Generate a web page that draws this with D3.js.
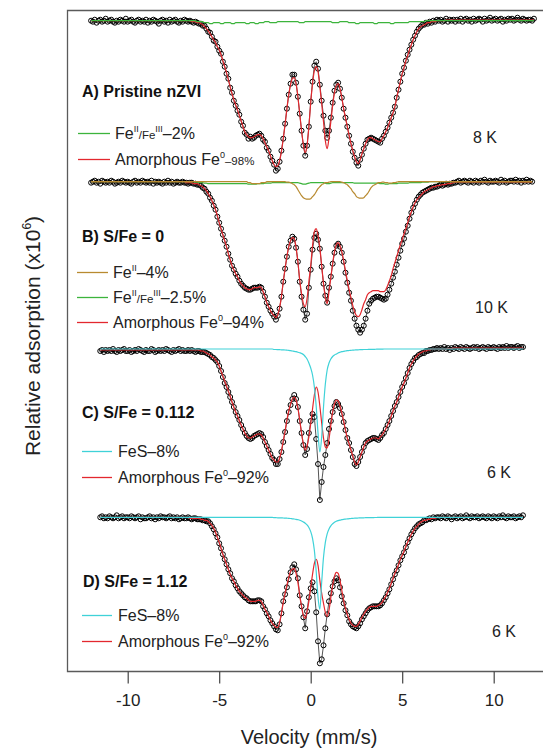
<!DOCTYPE html>
<html>
<head>
<meta charset="utf-8">
<script src="https://cdn.jsdelivr.net/npm/d3@7"></script>
<style>
  html, body { margin: 0; padding: 0; background: #fff; }
  svg { display: block; font-family: "Liberation Sans", Arial, sans-serif; }
</style>
</head>
<body>
<svg id="chart" width="543" height="748"></svg>
<script>
// Mössbauer spectra of nZVI samples: measured absorption (circles) and fitted components.
// Velocity channels (mm/s), 0.1 mm/s apart.
const velocity = d3.range(244).map(i => Math.round(-120 + i) / 10);      // -12.0 … 12.3
const fitVelocity = d3.range(160).map(i => Math.round(-80 + i) / 10);    // -8.0 … 7.9
const xTicks = [-10, -5, 0, 5, 10];

// ---- A) Pristine nZVI, 8 K ----
const pristineCounts = [
  0,1,-1,2,0,-1,1,0,-2,1,
  0,-1,1,2,0,1,-1,0,1,-2,
  1,0,-1,1,2,0,-1,1,0,1,
  -1,2,0,1,-1,0,1,3,0,-1,
  1,0,2,-1,1,0,-1,1,2,0,
  1,-1,0,1,0,1,2,1,2,3,
  3,5,5,8,11,12,16,20,21,26,
  30,33,41,46,53,58,67,72,80,85,
  90,94,101,105,112,114,118,116,118,117,
  115,114,113,115,119,121,127,130,136,140,
  144,150,148,141,130,118,103,88,74,63,
  54,54,62,76,93,110,125,135,125,106,
  81,61,45,41,48,64,80,95,110,117,
  110,97,82,70,64,62,68,77,88,97,
  106,115,123,131,137,142,145,139,134,128,
  123,119,118,117,118,119,120,121,122,118,
  115,111,107,102,97,92,86,77,69,61,
  53,47,40,34,29,24,19,15,11,8,
  6,4,4,2,3,1,2,0,1,-1,
  0,-1,1,0,-2,1,-1,0,-1,1,
  -1,0,-2,1,-1,-2,0,-1,1,-2,
  0,-1,-2,-1,1,-2,0,-1,-3,0,
  -1,-2,0,-1,-2,1,-1,0,-2,-1,
  -2,0,-1,-3,-1,0,-2,-1,0,-1,
  -1,0,-2,null
];
const pristineFit = [
  0,0,0,0,0,0,0,0,0,0,
  0,0,0,0,0,1,1,1,2,2,
  3,4,6,8,10,13,16,19,22,26,
  29,34,40,46,52,59,66,73,79,84,
  89,95,100,106,111,114,116,117,117,116,
  115,114,114,115,118,122,126,130,135,140,
  144,146,145,140,131,118,104,88,74,64,
  58,57,63,76,93,110,124,132,125,106,
  82,63,50,46,51,66,83,101,120,128,
  117,101,85,72,65,63,68,77,88,97,
  106,115,123,130,136,141,143,139,133,128,
  123,119,117,117,118,119,120,121,121,118,
  115,111,107,102,97,92,86,77,69,61,
  53,47,40,35,29,24,19,15,11,8,
  6,5,4,3,2,2,1,1,1,0,
  0,0,0,0,-0.5,-0.5,-0.5,-0.5,-0.5,-0.5
];
const pristineFeII_III = [
  0,0,0,0,0,0,0,0,0,0,
  0,0,0,0,0,0,0,0,1,1,
  1,1,2,2,2,3,3,2,2,2,
  2,3,3,2,2,2,2,3,3,2,
  2,2,2,2,2,3,3,2,2,2,
  3,3,2,2,2,1,1,1,2,2,
  2,2,1,1,1,1,1,1,1,1,
  1,1,1,1,2,2,2,1,1,1,
  1,1,1,1,1,1,1,1,1,1,
  1,1,2,2,2,2,1,1,1,1,
  1,2,2,2,2,3,3,2,2,2,
  2,2,2,2,2,3,3,2,2,2,
  2,2,2,2,3,3,2,2,2,2,
  2,2,2,2,1,1,1,1,1,1,
  1,1,1,0,0,0,0,0,0,0,
  0,0,0,0,0,0,0,0,0,0
];

// ---- B) S/Fe = 0, 10 K ----
const sfe0Counts = [
  1,0,-1,1,0,2,-1,0,1,0,
  1,-1,0,2,1,0,1,-1,0,1,
  0,1,2,0,-1,1,0,1,-1,0,
  1,0,1,-1,2,0,1,0,1,2,
  0,1,-1,1,0,2,1,0,1,1,
  0,1,1,2,1,1,2,2,3,3,
  4,6,7,10,12,16,19,24,28,35,
  41,47,53,59,65,72,78,84,88,92,
  95,99,102,104,106,107,108,108,107,106,
  106,106,105,106,110,115,121,125,129,132,
  135,138,134,127,115,100,87,75,65,59,
  55,57,66,80,100,115,128,138,132,106,
  88,68,56,52,58,67,85,102,114,121,
  106,95,82,71,64,62,65,71,80,91,
  101,111,119,129,137,144,148,151,148,144,
  137,129,122,119,117,116,115,115,116,117,
  118,117,113,108,102,96,90,83,76,69,
  62,57,50,44,37,31,26,22,18,15,
  13,11,10,9,8,7,6,6,5,5,
  4,3,4,3,2,3,2,2,1,1,
  0,-1,1,0,-1,0,1,-1,0,1,
  -1,0,1,-1,0,-2,0,1,-1,0,
  0,-1,0,1,-2,0,-1,1,0,-1,
  -1,0,-2,0,-1,1,-1,0,-2,0,
  -1,0,null,null
];
const sfe0Fit = [
  0,0,0,0,0,0,0,0,0,0,
  0,0,1,1,1,1,2,2,2,3,
  4,5,7,9,12,15,19,23,28,34,
  41,47,53,59,65,72,78,84,88,92,
  95,99,102,104,106,107,108,108,107,106,
  106,106,105,106,110,115,121,125,129,132,
  134,136,133,126,115,100,87,75,65,59,
  56,57,66,80,98,112,122,125,117,100,
  84,64,50,47,54,66,84,102,116,122,
  110,96,82,70,63,61,64,70,79,89,
  99,108,116,124,130,134,135,133,128,122,
  118,113,111,110,109,109,109,109,110,110,
  110,108,104,99,94,87,81,75,69,63,
  58,52,47,41,35,30,25,21,18,16,
  14,12,10,9,8,7,6,5,5,4,
  4,3.5,3,3,2.5,2,2,1.5,1,0.5
];
const sfe0FeII = [
  0,0,0,0,0,0,0,0,0,0,
  0,0,0,0,0,0,0,0,0,0,
  0,0,0,0,0,0,0,0,0,0,
  0,0,0,0,0,0,0,0,0,0,
  0,0,0,0,0,0,1,1,2,2,
  2,2,2,1,1,1,0,0,0,0,
  0,0,0,0,0,0,0,0.5,0.5,1,
  2,3,5,8,11,14,16,17,17.5,17.5,
  17,15,13,10,7,5,3,2,1,1,
  0.5,0,0,0,0,0,0,0.5,1,2,
  3,5,7,10,12,15,16,16.5,16.5,16,
  14,12,9,6,4,3,2,1,1,0.5,
  0.5,1,1,1.5,1.5,1,1,0.5,0,0,
  0,0,0,0,0,0,0,0,0,0,
  0,0,0,0,0,0,0,0,0,0,
  0,0,0,0,0,0,0,0,0,0
];
const sfe0FeII_III = [
  0,0,0,0,0,0,0,0,0,0,
  0,0,0,0,0,0,0,0.5,0.5,1,
  1,1,1.5,1.5,2,2,2,2,2,2,
  2,2,2,2,2,2,2,2,2,2,
  2,2,2,2,2,2,2.5,2.5,2.5,2.5,
  2.5,2,2,2,2,1.5,1.5,1.5,1.5,1,
  1,1,1,1,1,1,1,1,1,1,
  1,1,1,1,1.5,2,2.5,2.5,2,1.5,
  1,1,1,1,1,1,1,1,1.5,2,
  2,1.5,1,1,1,1,1,1,1,1,
  1,1,1,1,1.5,1.5,1.5,1.5,1.5,1.5,
  1.5,1.5,1.5,1.5,1.5,1.5,1.5,1.5,2,2,
  2,2.5,2.5,2,2,2,2,2,1.5,1.5,
  1.5,1.5,1.5,1.5,1,1,1,1,1,1,
  1,0.5,0.5,0.5,0.5,0,0,0,0,0,
  0,0,0,0,0,0,0,0,0,0
];

// ---- C) S/Fe = 0.112, 6 K ----
const sfe0112Counts = [
  null,null,null,null,null,2,1,3,1,2,
  1,2,0,2,3,1,2,1,0,2,
  2,1,3,2,1,2,0,1,2,3,
  1,2,2,0,1,3,2,1,2,1,
  2,0,1,2,3,1,2,1,0,2,
  1,2,2,1,2,1,2,3,2,2,
  3,3,3,4,5,6,8,9,11,13,
  17,22,28,34,38,43,48,53,58,63,
  67,71,76,80,84,87,89,90,89,87,
  86,85,84,85,88,93,97,101,105,109,
  111,115,115,110,103,93,83,72,63,56,
  50,46,50,58,72,84,96,106,100,84,
  72,65,68,90,115,151,133,118,106,94,
  80,72,63,57,53,55,59,65,73,81,
  89,94,101,108,115,117,113,108,103,98,
  94,92,91,90,89,89,90,91,89,86,
  84,80,76,72,67,62,57,53,48,43,
  38,34,29,24,19,15,12,9,8,6,
  5,4,4,2,2,1,1,0,0,-1,
  0,-1,0,-2,0,-1,1,-1,0,-2,
  -1,0,-2,-1,0,-2,-1,0,-1,-2,
  -1,-2,0,-1,-2,-1,0,-2,-1,-1,
  -2,-1,0,-2,-1,-2,-1,-3,-1,-2,
  -2,-1,-2,-3,-1,-2,-2,null,null,null,
  null,null,null,null
];
const sfe0112Fit = [
  1,1,1,1,1,1,1,1,1,1,
  1,1,1,1,1,1,1,1,1,1,
  2,2,3,4,5,6,8,9,11,13,
  17,22,27,32,37,42,47,53,58,63,
  67,72,76,80,84,87,89,89,88,87,
  86,85,85,86,89,93,97,101,105,109,
  111,113,113,109,102,92,82,71,62,55,
  50,48,51,59,71,84,95,101,97,88,
  75,60,46,38,43,57,74,89,98,99,
  90,76,63,55,51,52,57,64,72,81,
  89,95,101,107,113,116,113,108,103,98,
  94,92,91,90,89,89,89,90,88,86,
  83,80,76,72,67,62,57,53,48,43,
  38,34,29,24,19,15,12,9,7,5,
  4,3,2,2,1,1,0,0,0,0,
  0,0,0,0,0,-0.5,-0.5,-0.5,-1,-1
];
const sfe0112FeS = [
  0,0,0,0,0,0,0,0,0,0,
  0,0,0,0,0,0,0,0,0,0,
  0,0,0,0,0,0,0,0,0,0,
  0,0,0,0,0,0,0,0,0,0,
  0,0,0,0,0,0,0,0,0,0,
  0,0,0,0,0,0,0,0,0,0,
  0.5,0.5,0.6,0.7,0.8,0.9,1,1.2,1.4,1.7,
  2,2.3,2.7,3.2,3.8,4.5,5.5,7.5,10,14,
  19,26,38,57,84,103,88,58,35,21,
  14,10,7.5,6,5,4,3.3,2.7,2.3,2,
  1.7,1.5,1.3,1.1,1,0.9,0.8,0.7,0.6,0.5,
  0.5,0.5,0.4,0.4,0.3,0.3,0.2,0.2,0.1,0.1,
  0,0,0,0,0,0,0,0,0,0,
  0,0,0,0,0,0,0,0,0,0,
  0,0,0,0,0,0,0,0,0,0,
  0,0,0,0,0,0,0,0,0,0
];

// ---- D) S/Fe = 1.12, 6 K ----
const sfe112Counts = [
  null,null,null,null,null,0,-1,1,0,1,
  -1,0,1,0,-2,1,0,-1,1,0,
  0,1,-1,0,1,0,-1,2,0,1,
  1,0,-1,1,0,2,0,1,-1,0,
  0,1,0,-1,1,0,1,0,2,1,
  0,1,1,0,1,2,1,1,2,2,
  2,3,3,4,4,6,9,12,16,20,
  26,31,37,42,47,52,56,61,64,68,
  71,74,76,78,80,81,83,84,84,84,
  84,83,83,84,89,92,96,99,103,106,
  109,112,113,107,96,84,77,70,62,55,
  50,47,52,61,78,89,100,111,94,80,
  71,65,74,95,124,146,142,128,111,97,
  84,76,69,64,61,63,70,79,86,93,
  98,104,107,109,110,111,109,106,102,99,
  96,93,91,90,89,89,89,89,88,86,
  83,80,76,72,67,62,57,53,48,43,
  39,35,30,25,21,17,14,11,9,7,
  6,5,3,3,2,1,2,0,1,0,
  0,1,-1,0,1,-1,0,2,0,-1,
  1,0,-1,1,0,-2,0,1,-1,0,
  0,-1,1,0,-1,0,1,-1,0,1,
  -1,0,1,-1,0,-2,0,1,-1,0,
  0,-1,1,0,-1,0,-2,null,null,null,
  null,null,null,null
];
const sfe112Fit = [
  0,0,0,0,0,0,0,0,0,0,
  0,0,0,0,1,1,1,1,1,1,
  2,2,3,3,4,6,8,11,15,20,
  25,31,37,42,47,52,57,61,64,68,
  71,74,76,78,80,81,83,84,84,84,
  84,83,83,84,88,92,95,99,103,106,
  108,110,110,105,96,85,76,68,60,54,
  52,51,56,65,78,89,98,101,94,84,
  70,57,46,42,48,63,76,86,95,99,
  93,80,68,59,55,56,63,73,83,91,
  97,102,106,108,109,109,107,104,100,97,
  94,92,90,89,89,89,89,88,87,85,
  82,79,75,71,66,61,56,52,47,42,
  38,34,29,25,21,17,14,11,9,7,
  5,4,3,3,2,2,1,1,1,0,
  0,0,0,0,0,0,0,0,0,0
];
const sfe112FeS = [
  0,0,0,0,0,0,0,0,0,0,
  0,0,0,0,0,0,0,0,0,0,
  0,0,0,0,0,0,0,0,0,0,
  0,0,0,0,0,0,0,0,0,0,
  0,0,0,0,0,0,0,0,0,0,
  0,0,0,0,0,0,0,0,0,0,
  0.4,0.4,0.5,0.5,0.6,0.7,0.8,0.9,1,1.2,
  1.5,1.7,2,2.4,2.9,3.7,4.7,5.9,7.6,10.2,
  14.3,21,33,54,80,92,65,40,25,16.5,
  11.6,8.5,6.5,5,4,3.3,2.8,2.4,2,1.8,
  1.6,1.4,1.2,1,0.9,0.8,0.7,0.6,0.5,0.5,
  0.4,0.4,0.3,0.3,0.3,0.2,0.2,0.1,0.1,0,
  0,0,0,0,0,0,0,0,0,0,
  0,0,0,0,0,0,0,0,0,0,
  0,0,0,0,0,0,0,0,0,0,
  0,0,0,0,0,0,0,0,0,0
];

// ---- styling ----
const COLOR = {
  amorphous: "#e3282e",
  mixed: "#3cb43c",
  ferrous: "#b88a30",
  sulfide: "#3fd2d8",
  data: "#000"
};

// Legend texts: [text, kind] where kind is "sup" (superscript) or "small".
const FE_MIXED = pct => [["Fe"], ["II", "sup"], ["/Fe", "small"], ["III", "sup"], ["–" + pct]];
const AMORPHOUS = (pct, small) => [["Amorphous Fe"], ["0", "sup"], ["–" + pct, small ? "small" : null]];

const spectra = [
  {
    label: "A) Pristine nZVI", temperature: "8 K", counts: pristineCounts,
    fits: [
      { values: pristineFit, color: COLOR.amorphous },
      { values: pristineFeII_III, color: COLOR.mixed }
    ],
    legend: [
      { color: COLOR.mixed, parts: FE_MIXED("2%") },
      { color: COLOR.amorphous, parts: AMORPHOUS("98%", true) }
    ]
  },
  {
    label: "B) S/Fe = 0", temperature: "10 K", counts: sfe0Counts,
    fits: [
      { values: sfe0Fit, color: COLOR.amorphous },
      { values: sfe0FeII_III, color: COLOR.mixed },
      { values: sfe0FeII, color: COLOR.ferrous }
    ],
    legend: [
      { color: COLOR.ferrous, parts: [["Fe"], ["II", "sup"], ["–4%"]] },
      { color: COLOR.mixed, parts: FE_MIXED("2.5%") },
      { color: COLOR.amorphous, parts: AMORPHOUS("94%") }
    ]
  },
  {
    label: "C) S/Fe = 0.112", temperature: "6 K", counts: sfe0112Counts,
    fits: [
      { values: sfe0112Fit, color: COLOR.amorphous },
      { values: sfe0112FeS, color: COLOR.sulfide }
    ],
    legend: [
      { color: COLOR.sulfide, parts: [["FeS–8%"]] },
      { color: COLOR.amorphous, parts: AMORPHOUS("92%") }
    ]
  },
  {
    label: "D) S/Fe = 1.12", temperature: "6 K", counts: sfe112Counts,
    fits: [
      { values: sfe112Fit, color: COLOR.amorphous },
      { values: sfe112FeS, color: COLOR.sulfide }
    ],
    legend: [
      { color: COLOR.sulfide, parts: [["FeS–8%"]] },
      { color: COLOR.amorphous, parts: AMORPHOUS("92%") }
    ]
  }
];

// Vertical stacking and annotation placement for each spectrum.
const layout = [
  { offset: 10.7,  labelX: 82, labelY: 97,  lineX: [78, 110], textX: 115, rows: [139, 165],      tempX: 473, tempY: 143 },
  { offset: 171.7, labelX: 82, labelY: 242, lineX: [77, 108], textX: 113, rows: [278, 303, 328], tempX: 475, tempY: 313 },
  { offset: 339,   labelX: 82, labelY: 418, lineX: [82, 112], textX: 118, rows: [457, 483],      tempX: 487, tempY: 478 },
  { offset: 507.3, labelX: 83, labelY: 587, lineX: [82, 112], textX: 118, rows: [621, 647],      tempX: 492, tempY: 637 }
];

const svg = d3.select("#chart");
const x = d3.scaleLinear().domain([-10, 10]).range([127.7, 493.7]);
const y = d3.scaleLinear().domain([0, 661]).range([10, 671]);

// Plot frame (open on the right)
svg.append("path")
  .attr("d", "M560,10.5 H67.5 V671.5 H560")
  .attr("fill", "none").attr("stroke", "#5a5a5a").attr("stroke-width", 1.3);

// x axis
const axis = svg.append("g")
  .attr("transform", "translate(0,671.5)")
  .call(d3.axisBottom(x).tickValues(xTicks).tickSize(12).tickPadding(10).tickFormat(d => String(d)));
axis.select(".domain").remove();
axis.selectAll(".tick line").attr("stroke", "#444").attr("stroke-width", 1.2);
axis.selectAll(".tick text")
  .attr("font-family", '"Liberation Sans", Arial, sans-serif')
  .attr("font-size", 17).attr("fill", "#222");

svg.append("text")
  .attr("x", 309).attr("y", 744)
  .attr("text-anchor", "middle").attr("font-size", 20).attr("fill", "#222")
  .text("Velocity (mm/s)");

const yTitle = svg.append("text")
  .attr("transform", "translate(40,336) rotate(-90)")
  .attr("text-anchor", "middle").attr("font-size", 21).attr("fill", "#222");
yTitle.append("tspan").text("Relative adsorption (x10");
yTitle.append("tspan").attr("font-size", 12).attr("dy", -9).text("6");
yTitle.append("tspan").attr("dy", 9).text(")");

function addRich(textSel, parts, baseSize) {
  let shift = 0;
  parts.forEach(([t, kind]) => {
    const target = kind === "sup" ? -7 : 0;
    const size = kind === "sup" ? 9 : kind === "small" ? 11.5 : baseSize;
    textSel.append("tspan").attr("dy", target - shift).attr("font-size", size).text(t);
    shift = target;
  });
}

spectra.forEach((s, k) => {
  const L = layout[k];
  const g = svg.append("g");
  const yOf = a => y(L.offset + a);

  const pts = velocity.map((v, i) => ({ v, a: s.counts[i] })).filter(d => d.a != null);
  const vFirst = pts[0].v, vLast = pts[pts.length - 1].v;

  // measured spectrum: thin connecting line and open circles
  g.append("path")
    .datum(pts)
    .attr("d", d3.line().x(d => x(d.v)).y(d => yOf(d.a)))
    .attr("fill", "none").attr("stroke", "#555").attr("stroke-width", 1);
  g.selectAll("circle")
    .data(pts)
    .join("circle")
    .attr("cx", d => x(d.v)).attr("cy", d => yOf(d.a))
    .attr("r", 2.5)
    .attr("fill", "none").attr("stroke", COLOR.data).attr("stroke-width", 1);

  // fitted subspectra, extended flat over the measured range
  const fitLine = d3.line().x(d => x(d.v)).y(d => yOf(d.a)).curve(d3.curveMonotoneX);
  s.fits.forEach(f => {
    const fp = fitVelocity.map((v, i) => ({ v, a: f.values[i] }));
    const full = [{ v: vFirst, a: fp[0].a }, ...fp, { v: vLast, a: fp[fp.length - 1].a }];
    g.append("path")
      .datum(full)
      .attr("d", fitLine)
      .attr("fill", "none").attr("stroke", f.color).attr("stroke-width", 1.2);
  });

  // sample label
  g.append("text")
    .attr("x", L.labelX).attr("y", L.labelY)
    .attr("font-size", 16).attr("font-weight", "bold").attr("fill", "#111")
    .text(s.label);

  // legend
  s.legend.forEach((item, j) => {
    const base = L.rows[j];
    g.append("line")
      .attr("x1", L.lineX[0]).attr("x2", L.lineX[1])
      .attr("y1", base - 5.5).attr("y2", base - 5.5)
      .attr("stroke", item.color).attr("stroke-width", 1.3);
    const t = g.append("text")
      .attr("x", L.textX).attr("y", base)
      .attr("font-size", 16).attr("fill", "#222");
    addRich(t, item.parts, 16);
  });

  // temperature
  g.append("text")
    .attr("x", L.tempX).attr("y", L.tempY)
    .attr("font-size", 16).attr("fill", "#222")
    .text(s.temperature);
});
</script>
</body>
</html>
